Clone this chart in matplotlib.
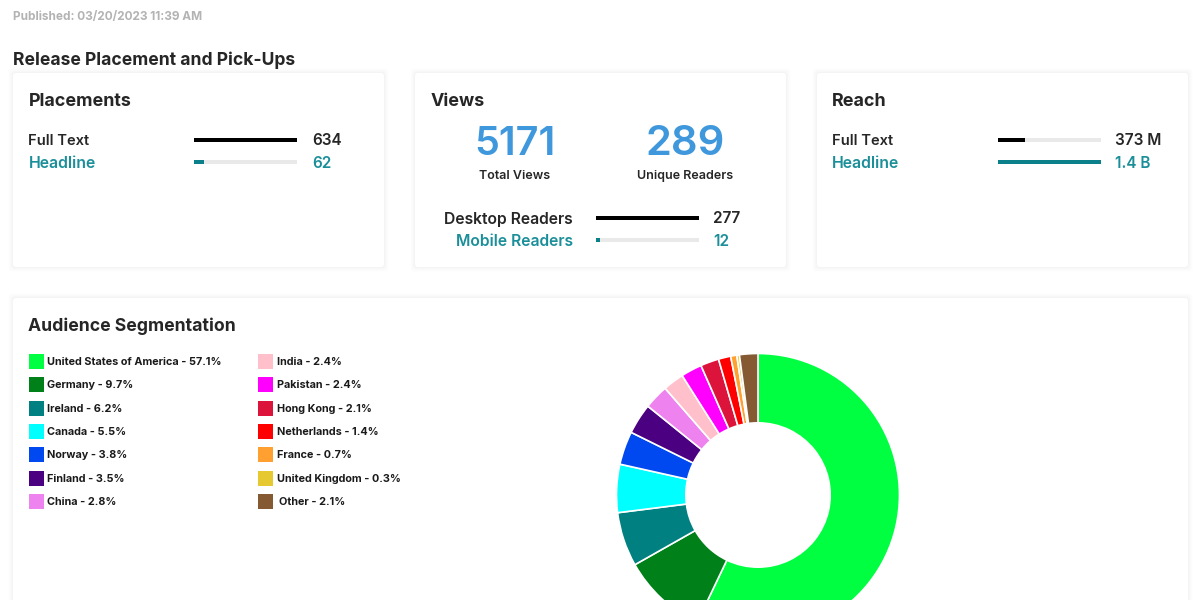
import matplotlib
matplotlib.use('Agg')
from matplotlib import pyplot as plt
from matplotlib.patches import FancyBboxPatch, Rectangle

plt.rcParams['font.family'] = ['Inter', 'DejaVu Sans']

W, H = 1200, 600

# data
countries = ['United States of America', 'Germany', 'Ireland', 'Canada', 'Norway', 'Finland', 'China',
             'India', 'Pakistan', 'Hong Kong', 'Netherlands', 'France', 'United Kingdom', 'Other']
shares = [57.1, 9.7, 6.2, 5.5, 3.8, 3.5, 2.8, 2.4, 2.4, 2.1, 1.4, 0.7, 0.3, 2.1]
colors = ['#00ff41', '#008018', '#008080', '#00ffff', '#0048f0', '#4b0082', '#ee82ee',
          '#ffc0cb', '#ff00ff', '#dc143c', '#ff0000', '#ffa030', '#e6c830', '#855a33']

placement_values = [634, 62]
placement_labels = ['634', '62']
view_totals = ['5171', '289']
view_total_names = ['Total Views', 'Unique Readers']
reader_values = [277, 12]
reader_labels = ['277', '12']
reach_values = [373e6, 1.4e9]
reach_labels = ['373 M', '1.4 B']

DARK = '#262626'
TEAL = '#1b8f99'
BLUE = '#3f97dc'
TRACK = '#e9e9e9'

fig = plt.figure(figsize=(W / 100, H / 100), dpi=100, facecolor='white')
page = fig.add_axes([0, 0, 1, 1])
page.set_xlim(0, W)
page.set_ylim(H, 0)
page.axis('off')


def text(x, y, s, size, color=DARK, weight='semibold', ha='left'):
    page.text(x, y + 1.2, s, fontsize=size, color=color, fontweight=weight, ha=ha, va='center')


def card(x0, y0, x1, y1):
    # soft shadow, then the white card
    for grow, a in [(5, 0.004), (4, 0.006), (3, 0.008), (2, 0.01), (1, 0.012)]:
        page.add_patch(FancyBboxPatch((x0 - grow, y0 - grow), x1 - x0 + 2 * grow, y1 - y0 + 2 * grow,
                                      boxstyle='round,pad=0,rounding_size=4', fc='black', ec='none', alpha=a))
    page.add_patch(FancyBboxPatch((x0, y0), x1 - x0, y1 - y0, boxstyle='round,pad=0,rounding_size=3',
                                  fc='white', ec='none'))


def bar(x, y, value, total, color):
    # one axes per progress bar, 103 px wide and 4 px high
    ax = fig.add_axes([x / W, 1 - (y + 2) / H, 103 / W, 4 / H])
    ax.barh([0], [total], height=1, color=TRACK)
    ax.barh([0], [value], height=1, color=color)
    ax.set_xlim(0, total)
    ax.set_ylim(-0.5, 0.5)
    ax.axis('off')


def bar_rows(values, labels, bar_x, label_x, rows):
    total = max(values)
    for value, label, y, color in zip(values, labels, rows, ['black', '#0b7f8a']):
        bar(bar_x, y, value, total, color)
        text(label_x, y, label, 11, color=DARK if color == 'black' else TEAL)


text(13, 15.5, 'Published: 03/20/2023 11:39 AM', 8.5, color='#b3b3b3', weight='bold')
text(13, 59.5, 'Release Placement and Pick-Ups', 12.6, weight='bold')

card(13, 73, 384, 267)
card(415, 73, 786, 267)
card(817, 73, 1188, 267)
card(13, 298, 1188, 640)

# Placements
text(28.5, 100, 'Placements', 12.9, weight='bold')
text(28.5, 140, 'Full Text', 10.6)
text(28.5, 162.5, 'Headline', 11.4, color=TEAL)
bar_rows(placement_values, placement_labels, 194, 312, [139.5, 162])

# Views
text(430.5, 100, 'Views', 12.9, weight='bold')
for x, big, small, size in zip([515, 685], view_totals, view_total_names, [28.5, 30]):
    text(x, 143, big, size, color=BLUE, ha='center')
    text(x, 175, small, 9, ha='center')
text(573, 218, 'Desktop Readers', 11.3, ha='right')
text(573, 240.5, 'Mobile Readers', 11.3, color=TEAL, ha='right')
bar_rows(reader_values, reader_labels, 596, 713, [217.5, 240])

# Reach
text(832, 100, 'Reach', 12.9, weight='bold')
text(832, 140, 'Full Text', 10.6)
text(832, 162.5, 'Headline', 11.4, color=TEAL)
bar_rows(reach_values, reach_labels, 998, 1115, [139.5, 162])

# Audience Segmentation
text(28.5, 325.5, 'Audience Segmentation', 12.7, weight='bold')
rows_y = [361, 384.5, 408, 431, 454.5, 478, 501.5]
for i, (name, share, color) in enumerate(zip(countries, shares, colors)):
    col, row = divmod(i, 7)
    x = 29 + col * 229
    page.add_patch(Rectangle((x, rows_y[row] - 7.5), 15, 15, fc=color, ec='none'))
    tx = x + 18 + col
    if name == 'Other':
        tx += 2
    text(tx, rows_y[row] - 0.5, f'{name} - {share}%', 7.8, color='#1a1a1a', weight='bold')

# donut, cut off by the bottom of the figure
donut = fig.add_axes([616.5 / W, 1 - 636.5 / H, 283 / W, 283 / H])
donut.pie(shares, colors=colors, startangle=90, counterclock=False, radius=1,
          wedgeprops={'width': 0.49, 'edgecolor': 'white', 'linewidth': 1.2})
donut.set_xlim(-1, 1)
donut.set_ylim(-1, 1)

fig.savefig('out.png', dpi=100)
